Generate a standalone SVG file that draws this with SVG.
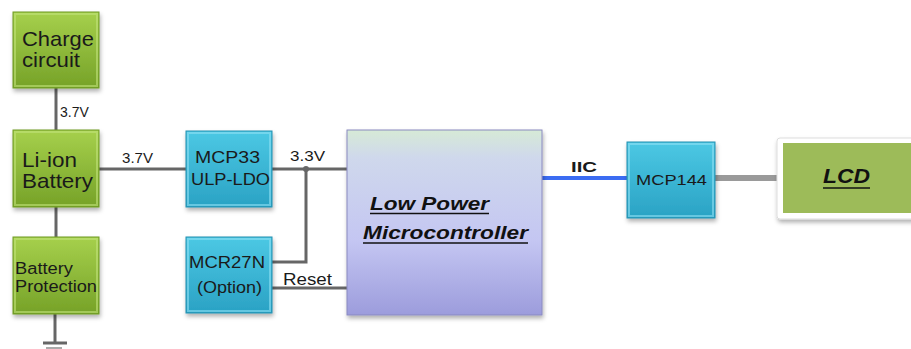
<svg xmlns="http://www.w3.org/2000/svg" width="911" height="349" viewBox="0 0 911 349">
  <defs>
    <linearGradient id="gGreen" x1="0" y1="0" x2="0" y2="1">
      <stop offset="0" stop-color="#a6d04c"/>
      <stop offset="1" stop-color="#76a228"/>
    </linearGradient>
    <linearGradient id="gBlue" x1="0" y1="0" x2="0" y2="1">
      <stop offset="0" stop-color="#4cc8e4"/>
      <stop offset="1" stop-color="#2aa2c4"/>
    </linearGradient>
    <linearGradient id="gMcu" x1="0" y1="0" x2="0" y2="1">
      <stop offset="0" stop-color="#d6ead6"/>
      <stop offset="0.15" stop-color="#cfd8ec"/>
      <stop offset="0.6" stop-color="#c4c6f2"/>
      <stop offset="1" stop-color="#9c9cdc"/>
    </linearGradient>
    <filter id="shadow" x="-10%" y="-10%" width="125%" height="130%">
      <feDropShadow dx="1" dy="3" stdDeviation="2" flood-color="#000" flood-opacity="0.3"/>
    </filter>
  </defs>
  <style>
    .green { fill: url(#gGreen); stroke: #6f9a25; stroke-width: 1; filter: url(#shadow); }
    .blue { fill: url(#gBlue); stroke: #2590b0; stroke-width: 1; filter: url(#shadow); }
    .bevelG { fill: none; stroke: #c2e27a; stroke-opacity: 0.6; stroke-width: 2; }
    .bevelB { fill: none; stroke: #8ee0f4; stroke-opacity: 0.6; stroke-width: 2; }
    .t { font-family: "Liberation Sans", Arial, sans-serif; fill: #1a1a1a; }
    .wire { stroke: #666; stroke-width: 3; fill: none; }
    .bi { font-family: "Liberation Sans", Arial, sans-serif; font-weight: bold; font-style: italic; fill: #111; }
  </style>

  <g id="connectors">
    <line class="wire" x1="56" y1="88" x2="56" y2="130"/>
    <line class="wire" x1="56" y1="207" x2="56" y2="237"/>
    <line class="wire" x1="55" y1="314" x2="55" y2="342"/>
    <line class="wire" x1="43" y1="343" x2="67" y2="343"/>
    <line x1="46" y1="348" x2="62" y2="348" stroke="#aaa" stroke-width="2"/>
    <line class="wire" x1="99" y1="169" x2="186" y2="169"/>
    <line class="wire" x1="272" y1="169" x2="347" y2="169"/>
    <polyline class="wire" points="306,169 306,262 272,262"/>
    <circle cx="306" cy="169" r="3" fill="#666"/>
    <line class="wire" x1="272" y1="288" x2="347" y2="288"/>
    <line x1="542" y1="178" x2="627" y2="178" stroke="#3b6cf2" stroke-width="4"/>
    <line x1="715" y1="178" x2="777" y2="178" stroke="#9a9a9a" stroke-width="6"/>
    <text class="t" x="60" y="117" font-size="14">3.7V</text>
    <text class="t" x="122" y="163" font-size="14" textLength="31" lengthAdjust="spacingAndGlyphs">3.7V</text>
    <text class="t" x="290" y="161" font-size="14" textLength="35" lengthAdjust="spacingAndGlyphs">3.3V</text>
    <text class="t" x="283" y="285" font-size="16" textLength="49" lengthAdjust="spacingAndGlyphs">Reset</text>
    <text class="t" x="571" y="172" font-size="15" font-weight="bold" textLength="26" lengthAdjust="spacingAndGlyphs">IIC</text>
  </g>

  <g id="charge">
    <rect class="green" x="13" y="12" width="86" height="76"/>
    <rect class="bevelG" x="15" y="14" width="82" height="72"/>
    <text class="t" x="22" y="46" font-size="21" textLength="72" lengthAdjust="spacingAndGlyphs">Charge</text>
    <text class="t" x="22" y="67" font-size="21" textLength="58" lengthAdjust="spacingAndGlyphs">circuit</text>
  </g>

  <g id="battery">
    <rect class="green" x="13" y="130" width="86" height="77"/>
    <rect class="bevelG" x="15" y="132" width="82" height="73"/>
    <text class="t" x="22" y="167" font-size="21" textLength="55" lengthAdjust="spacingAndGlyphs">Li-ion</text>
    <text class="t" x="22" y="188" font-size="21" textLength="71" lengthAdjust="spacingAndGlyphs">Battery</text>
  </g>

  <g id="protection">
    <rect class="green" x="13" y="237" width="86" height="77"/>
    <rect class="bevelG" x="15" y="239" width="82" height="73"/>
    <text class="t" x="15" y="274" font-size="16" textLength="58" lengthAdjust="spacingAndGlyphs">Battery</text>
    <text class="t" x="15" y="292" font-size="16" textLength="82" lengthAdjust="spacingAndGlyphs">Protection</text>
  </g>

  <g id="mcp33">
    <rect class="blue" x="186" y="131" width="86" height="76"/>
    <rect class="bevelB" x="188" y="133" width="82" height="72"/>
    <text class="t" x="195" y="163" font-size="17" textLength="65" lengthAdjust="spacingAndGlyphs">MCP33</text>
    <text class="t" x="191" y="185" font-size="17" textLength="79" lengthAdjust="spacingAndGlyphs">ULP-LDO</text>
  </g>

  <g id="mcr27n">
    <rect class="blue" x="186" y="237" width="86" height="76"/>
    <rect class="bevelB" x="188" y="239" width="82" height="72"/>
    <text class="t" x="189" y="268" font-size="17" textLength="76" lengthAdjust="spacingAndGlyphs">MCR27N</text>
    <text class="t" x="197" y="293" font-size="17" textLength="65" lengthAdjust="spacingAndGlyphs">(Option)</text>
  </g>

  <g id="mcu">
    <rect x="347" y="130" width="195" height="185" fill="url(#gMcu)" stroke="#8a8ac0" stroke-width="1" filter="url(#shadow)"/>
    <text class="bi" x="370" y="210" font-size="19" textLength="119" lengthAdjust="spacingAndGlyphs">Low Power</text>
    <line x1="370" y1="213.5" x2="489" y2="213.5" stroke="#111" stroke-width="1.5"/>
    <text class="bi" x="363" y="239" font-size="19" textLength="165" lengthAdjust="spacingAndGlyphs">Microcontroller</text>
    <line x1="363" y1="243" x2="528" y2="243" stroke="#111" stroke-width="1.5"/>
  </g>

  <g id="mcp144">
    <rect class="blue" x="627" y="142" width="88" height="76"/>
    <rect class="bevelB" x="629" y="144" width="84" height="72"/>
    <text class="t" x="636" y="185" font-size="15" textLength="71" lengthAdjust="spacingAndGlyphs">MCP144</text>
  </g>

  <g id="lcd">
    <rect x="777" y="138" width="140" height="81" rx="3" fill="#fff" stroke="#ddd" stroke-width="1" filter="url(#shadow)"/>
    <rect x="783" y="143" width="130" height="70" fill="#9dbb59"/>
    <text class="bi" x="823" y="183" font-size="20" textLength="47" lengthAdjust="spacingAndGlyphs">LCD</text>
    <line x1="823" y1="188" x2="870" y2="188" stroke="#111" stroke-width="1.5"/>
  </g>
</svg>
